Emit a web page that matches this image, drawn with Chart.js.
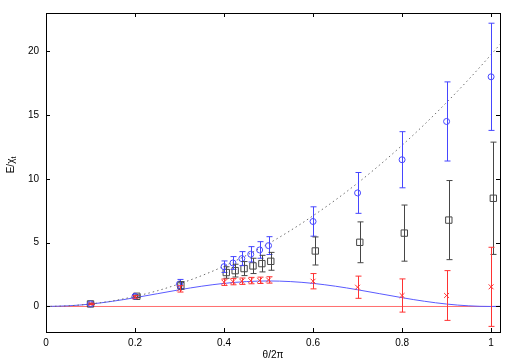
<!DOCTYPE html>
<html>
<head>
<meta charset="utf-8">
<script src="https://cdn.jsdelivr.net/npm/chart.js@4"></script>
<style>
  html, body { margin: 0; padding: 0; background: #fff; }
  #wrap { width: 518px; height: 363px; }
</style>
</head>
<body>
<div id="wrap"><canvas id="chart"></canvas></div>
<script>
// points (circles / crosses sit on the nominal x, squares slightly to the right)
const xPoints  = [0.1, 0.2, 0.3, 0.4, 0.42, 0.44, 0.46, 0.48, 0.5, 0.6, 0.7, 0.8, 0.9, 1.0];
const xSquares = [0.1, 0.204, 0.303, 0.405, 0.425, 0.445, 0.465, 0.485, 0.505, 0.605, 0.705, 0.805, 0.905, 1.005];

const circleVals = [0.2, 0.8, 1.77, 3.12, 3.41, 3.75, 4.09, 4.43, 4.77, 6.66, 8.9, 11.5, 14.5, 18.0];
const circleErrs = [0.05, 0.1, 0.35, 0.45, 0.5, 0.55, 0.6, 0.65, 0.7, 1.15, 1.6, 2.2, 3.1, 4.2];

const squareVals = [0.2, 0.8, 1.65, 2.66, 2.81, 2.97, 3.18, 3.36, 3.54, 4.35, 5.03, 5.75, 6.77, 8.48];
const squareErrs = [0.05, 0.1, 0.3, 0.45, 0.5, 0.55, 0.6, 0.65, 0.7, 1.1, 1.6, 2.2, 3.1, 4.4];

const crossVals = [0.2, 0.75, 1.38, 1.9, 1.95, 1.98, 2.03, 2.05, 2.08, 1.98, 1.51, 0.86, 0.86, 1.54];
const crossErrs = [0.05, 0.1, 0.25, 0.25, 0.25, 0.25, 0.25, 0.25, 0.25, 0.6, 0.87, 1.3, 1.95, 3.1];

// curves
const curveX     = [0, 0.05, 0.1, 0.15, 0.2, 0.25, 0.3, 0.35, 0.4, 0.45, 0.5, 0.55, 0.6, 0.65, 0.7, 0.75, 0.8, 0.85, 0.9, 0.95, 1.0, 1.02];
const dottedVals = [0, 0.05, 0.2, 0.44, 0.79, 1.23, 1.78, 2.42, 3.16, 4.0, 4.93, 5.97, 7.11, 8.34, 9.67, 11.1, 12.63, 14.26, 15.99, 17.81, 19.74, 20.54];
const solidVals  = [0, 0.05, 0.19, 0.41, 0.69, 1.0, 1.31, 1.59, 1.81, 1.95, 2.0, 1.95, 1.81, 1.59, 1.31, 1.0, 0.69, 0.41, 0.19, 0.05, 0, 0.01];
const zeroLineX  = [0, 1.02];

const xTicks = [0, 0.2, 0.4, 0.6, 0.8, 1];
const yTicks = [0, 5, 10, 15, 20];

const BLUE = 'rgb(70,70,255)';
const RED  = 'rgb(255,50,50)';
const GRAY = 'rgb(70,70,70)';
const FONT = 'Liberation Sans, Arial, sans-serif';

const pts = (xs, ys) => xs.map((x, i) => ({ x, y: ys[i] }));

const errorBars = {
  id: 'errorBars',
  afterDatasetsDraw(chart) {
    const { ctx, scales: { x, y } } = chart;
    chart.data.datasets.forEach(ds => {
      if (!ds.errors) return;
      ctx.save();
      ctx.strokeStyle = ds.errorColor;
      ctx.lineWidth = 1;
      ds.data.forEach((p, i) => {
        const px = Math.round(x.getPixelForValue(p.x)) + 0.5;
        const top = y.getPixelForValue(p.y + ds.errors[i]);
        const bot = y.getPixelForValue(p.y - ds.errors[i]);
        ctx.beginPath();
        ctx.moveTo(px, top); ctx.lineTo(px, bot);
        ctx.moveTo(px - 3, top); ctx.lineTo(px + 3, top);
        ctx.moveTo(px - 3, bot); ctx.lineTo(px + 3, bot);
        ctx.stroke();
      });
      ctx.restore();
    });
  },
};

const frame = {
  id: 'frame',
  afterDraw(chart) {
    const { ctx, chartArea: a, scales: { x, y } } = chart;
    ctx.save();
    ctx.strokeStyle = '#000';
    ctx.lineWidth = 1;
    ctx.strokeRect(Math.round(a.left) + 0.5, Math.round(a.top) + 0.5,
                   Math.round(a.right - a.left), Math.round(a.bottom - a.top));
    ctx.beginPath();
    xTicks.forEach(v => {
      const px = Math.round(x.getPixelForValue(v)) + 0.5;
      ctx.moveTo(px, a.top); ctx.lineTo(px, a.top + 4);
      ctx.moveTo(px, a.bottom); ctx.lineTo(px, a.bottom - 4);
    });
    yTicks.forEach(v => {
      const py = Math.round(y.getPixelForValue(v)) + 0.5;
      ctx.moveTo(a.left, py); ctx.lineTo(a.left + 4, py);
      ctx.moveTo(a.right, py); ctx.lineTo(a.right - 4, py);
    });
    ctx.stroke();

    // axis titles
    ctx.fillStyle = '#000';
    ctx.font = '10px ' + FONT;
    ctx.textAlign = 'center';
    ctx.textBaseline = 'middle';
    ctx.fillText('θ/2π', (a.left + a.right) / 2, 355);

    ctx.translate(11, 165);
    ctx.rotate(-Math.PI / 2);
    ctx.textAlign = 'left';
    const main = 'E/χ';
    const w = ctx.measureText(main).width;
    ctx.font = '7px ' + FONT;
    const ws = ctx.measureText('t').width;
    ctx.font = '10px ' + FONT;
    const start = -(w + ws) / 2;
    ctx.fillText(main, start, 0);
    ctx.font = '7px ' + FONT;
    ctx.fillText('t', start + w, 3);
    ctx.restore();
  },
};

new Chart(document.getElementById('chart'), {
  type: 'scatter',
  data: {
    datasets: [
      {
        label: 'circles',
        data: pts(xPoints, circleVals),
        errors: circleErrs,
        errorColor: BLUE,
        pointStyle: 'circle',
        pointRadius: 3,
        borderColor: BLUE,
        backgroundColor: 'transparent',
        borderWidth: 1,
      },
      {
        label: 'squares',
        data: pts(xSquares, squareVals),
        errors: squareErrs,
        errorColor: GRAY,
        pointStyle: 'rect',
        pointRadius: 4.5,
        borderColor: GRAY,
        backgroundColor: 'transparent',
        borderWidth: 1,
      },
      {
        label: 'crosses',
        data: pts(xPoints, crossVals),
        errors: crossErrs,
        errorColor: RED,
        pointStyle: 'crossRot',
        pointRadius: 3.5,
        borderColor: RED,
        borderWidth: 1,
      },
      {
        label: 'dotted',
        data: pts(curveX, dottedVals),
        showLine: true,
        borderColor: 'rgb(110,110,110)',
        borderWidth: 1,
        borderDash: [1.5, 3],
        pointRadius: 0,
        cubicInterpolationMode: 'monotone',
      },
      {
        label: 'solid',
        data: pts(curveX, solidVals),
        showLine: true,
        borderColor: 'rgb(90,90,255)',
        borderWidth: 1,
        pointRadius: 0,
        cubicInterpolationMode: 'monotone',
      },
      {
        label: 'zero',
        data: pts(zeroLineX, [0, 0]),
        showLine: true,
        borderColor: 'rgb(255,110,110)',
        borderWidth: 1,
        pointRadius: 0,
      },
    ],
  },
  options: {
    responsive: true,
    maintainAspectRatio: false,
    animation: false,
    layout: { padding: { top: 13, right: 18, left: 0, bottom: 0 } },
    plugins: {
      legend: { display: false },
      tooltip: { enabled: false },
    },
    scales: {
      x: {
        type: 'linear',
        min: 0,
        max: 1.02,
        afterFit: s => { s.height = 31; },
        afterBuildTicks: s => { s.ticks = xTicks.map(v => ({ value: v })); },
        ticks: {
          color: '#000',
          padding: 5,
          maxRotation: 0,
          font: { size: 10, family: FONT },
          callback: v => String(v),
        },
        grid: { display: false, drawTicks: false },
        border: { display: false },
      },
      y: {
        type: 'linear',
        min: -2,
        max: 23,
        afterFit: s => { s.width = 46; },
        afterBuildTicks: s => { s.ticks = yTicks.map(v => ({ value: v })); },
        ticks: {
          color: '#000',
          padding: 7,
          font: { size: 10, family: FONT },
          callback: v => String(v),
        },
        grid: { display: false, drawTicks: false },
        border: { display: false },
      },
    },
  },
  plugins: [errorBars, frame],
});
</script>
</body>
</html>
